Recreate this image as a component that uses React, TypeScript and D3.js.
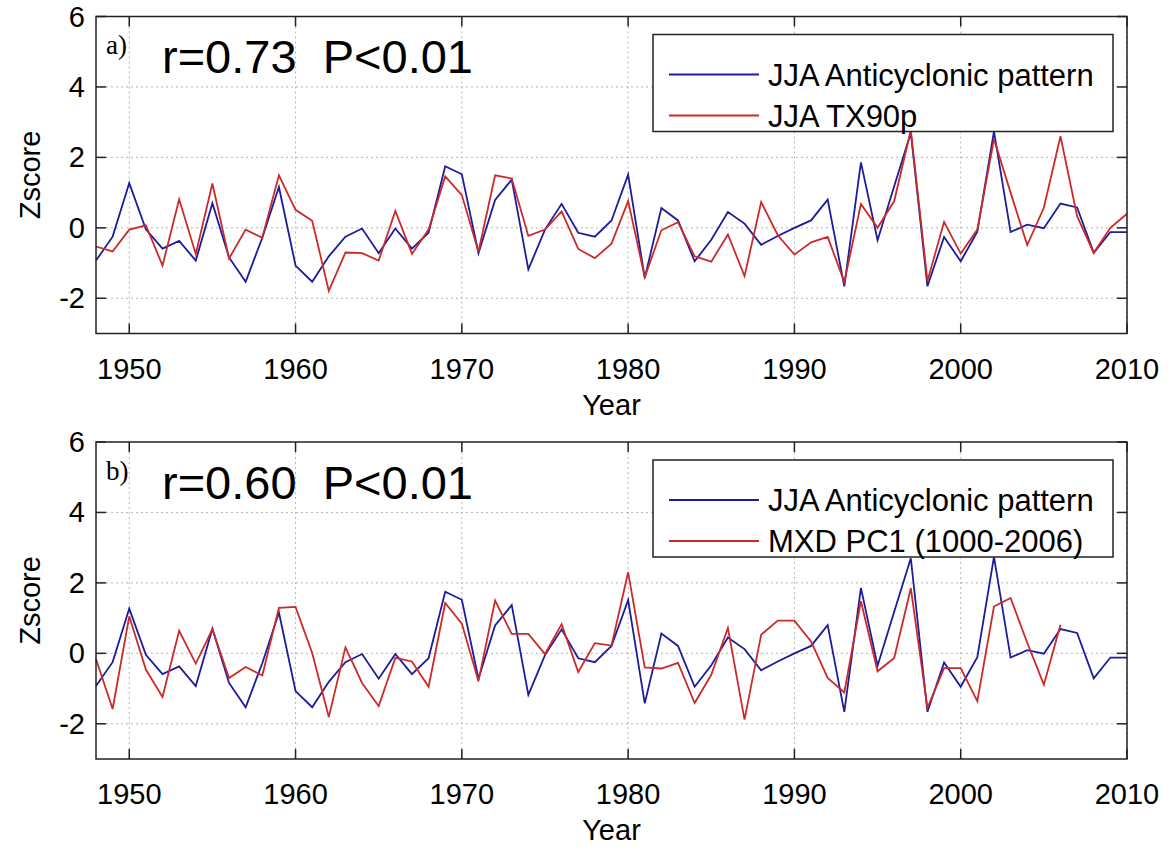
import * as d3 from "d3";
import React from "react";

// values, one per year
const startYear = 1948;

const anticyclonic = [
  -0.93, -0.25, 1.27, -0.04, -0.59, -0.37, -0.93, 0.7, -0.84, -1.53,
  -0.28, 1.16, -1.07, -1.53, -0.81, -0.25, -0.02, -0.72, -0.02, -0.59,
  -0.14, 1.75, 1.52, -0.72, 0.79, 1.37, -1.18, -0.05, 0.68, -0.14,
  -0.25, 0.21, 1.51, -1.42, 0.56, 0.21, -0.95, -0.34, 0.45, 0.12,
  -0.48, -0.23, 0.0, 0.21, 0.8, -1.66, 1.86, -0.35, 1.18, 2.7,
  -1.66, -0.26, -0.95, -0.11, 2.74, -0.12, 0.09, -0.01, 0.69, 0.58,
  -0.71, -0.12, -0.12,
];

const tx90p = [
  -0.53, -0.67, -0.05, 0.07, -1.07, 0.81, -0.74, 1.26, -0.87, -0.05,
  -0.28, 1.49, 0.51, 0.2, -1.79, -0.7, -0.72, -0.93, 0.48, -0.74,
  -0.05, 1.46, 0.93, -0.68, 1.49, 1.4, -0.23, -0.05, 0.47, -0.6,
  -0.86, -0.45, 0.76, -1.4, -0.07, 0.16, -0.81, -0.96, -0.19, -1.37,
  0.73, -0.21, -0.76, -0.41, -0.26, -1.54, 0.68, 0.0, 0.76, 2.77,
  -1.51, 0.17, -0.73, -0.05, 2.52, 1.0, -0.49, 0.57, 2.6, 0.33,
  -0.71, 0.0, 0.4,
];

const mxdPc1 = [
  -0.16, -1.58, 1.05, -0.46, -1.24, 0.64, -0.29, 0.69, -0.7, -0.39,
  -0.63, 1.29, 1.32, 0.01, -1.81, 0.17, -0.84, -1.5, -0.13, -0.23,
  -0.95, 1.43, 0.84, -0.79, 1.5, 0.55, 0.55, -0.02, 0.83, -0.53,
  0.29, 0.22, 2.3, -0.4, -0.43, -0.27, -1.41, -0.61, 0.72, -1.88,
  0.53, 0.93, 0.93, 0.34, -0.7, -1.11, 1.48, -0.51, -0.13, 1.85,
  -1.55, -0.42, -0.42, -1.36, 1.33, 1.57, 0.3, -0.89, 0.81,
];

const xTicks = [1950, 1960, 1970, 1980, 1990, 2000, 2010];
const yTicks = [-2, 0, 2, 4, 6];
const gridY = [-2, 0, 2, 4];

const panels = [
  { tag: "a)", stat: "r=0.73  P<0.01", red: tx90p, redLabel: "JJA TX90p", top: 16.5 },
  { tag: "b)", stat: "r=0.60  P<0.01", red: mxdPc1, redLabel: "MXD PC1 (1000-2006)", top: 442 },
];

const BLUE = "#1c1c9c";
const RED = "#cc2a2a";
const FONT = "Liberation Sans, Arial, Helvetica, sans-serif";

const left = 96;
const right = 1127;
const plotH = 317;

function Panel({ tag, stat, red, redLabel, top }) {
  const x = d3.scaleLinear().domain([1948, 2010]).range([left, right]);
  const y = d3.scaleLinear().domain([-3, 6]).range([top + plotH, top]);
  const line = d3
    .line<number>()
    .x((d, i) => x(startYear + i))
    .y((d) => y(d));
  const bottom = top + plotH;
  const lgTop = top + 18;

  return (
    <g>
      {/* grid */}
      {xTicks.map((t) => (
        <line key={"gx" + t} x1={x(t)} x2={x(t)} y1={top} y2={bottom}
          stroke="#b5b5b5" strokeDasharray="2,3" />
      ))}
      {gridY.map((t) => (
        <line key={"gy" + t} x1={left} x2={right} y1={y(t)} y2={y(t)}
          stroke="#b5b5b5" strokeDasharray="2,3" />
      ))}

      <path d={line(anticyclonic)} fill="none" stroke={BLUE} strokeWidth={1.8} />
      <path d={line(red)} fill="none" stroke={RED} strokeWidth={1.8} />

      {/* frame + inner ticks */}
      <rect x={left} y={top} width={right - left} height={plotH}
        fill="none" stroke="#222" strokeWidth={1.5} />
      {xTicks.map((t) => (
        <g key={"tx" + t}>
          <line x1={x(t)} x2={x(t)} y1={bottom} y2={bottom - 10} stroke="#222" strokeWidth={1.5} />
          <line x1={x(t)} x2={x(t)} y1={top} y2={top + 10} stroke="#222" strokeWidth={1.5} />
          <text x={x(t)} y={bottom + 45} textAnchor="middle" fontSize={29} fontFamily={FONT}>{t}</text>
        </g>
      ))}
      {yTicks.map((t) => (
        <g key={"ty" + t}>
          <line x1={left} x2={left + 10} y1={y(t)} y2={y(t)} stroke="#222" strokeWidth={1.5} />
          <line x1={right} x2={right - 10} y1={y(t)} y2={y(t)} stroke="#222" strokeWidth={1.5} />
          <text x={left - 11} y={y(t) + 10} textAnchor="end" fontSize={29} fontFamily={FONT}>{t}</text>
        </g>
      ))}

      <text x={(left + right) / 2} y={bottom + 81} textAnchor="middle" fontSize={29} fontFamily={FONT}>Year</text>
      <text transform={`translate(40,${(top + bottom) / 2}) rotate(-90)`} textAnchor="middle"
        fontSize={29} fontFamily={FONT}>Zscore</text>

      <text x={106} y={top + 37.5} fontSize={27} fontFamily="Liberation Serif, Times New Roman, serif">{tag}</text>
      <text x={162} y={top + 56.5} fontSize={47} fontFamily={FONT} style={{ whiteSpace: "pre" }}>{stat}</text>

      {/* legend */}
      <rect x={653} y={lgTop} width={460} height={97} fill="white" stroke="#222" strokeWidth={1.5} />
      <line x1={669} x2={759} y1={lgTop + 40} y2={lgTop + 40} stroke={BLUE} strokeWidth={1.8} />
      <line x1={669} x2={759} y1={lgTop + 81} y2={lgTop + 81} stroke={RED} strokeWidth={1.8} />
      <text x={768} y={lgTop + 51} fontSize={31} fontFamily={FONT}>JJA Anticyclonic pattern</text>
      <text x={768} y={lgTop + 92} fontSize={31} fontFamily={FONT}>{redLabel}</text>
    </g>
  );
}

export default function App() {
  return (
    <div style={{ position: "absolute", left: 0, top: 0 }}>
      <svg width={1171} height={852} style={{ background: "white", display: "block" }}>
        {panels.map((p) => (
          <Panel key={p.tag} {...p} />
        ))}
      </svg>
    </div>
  );
}
